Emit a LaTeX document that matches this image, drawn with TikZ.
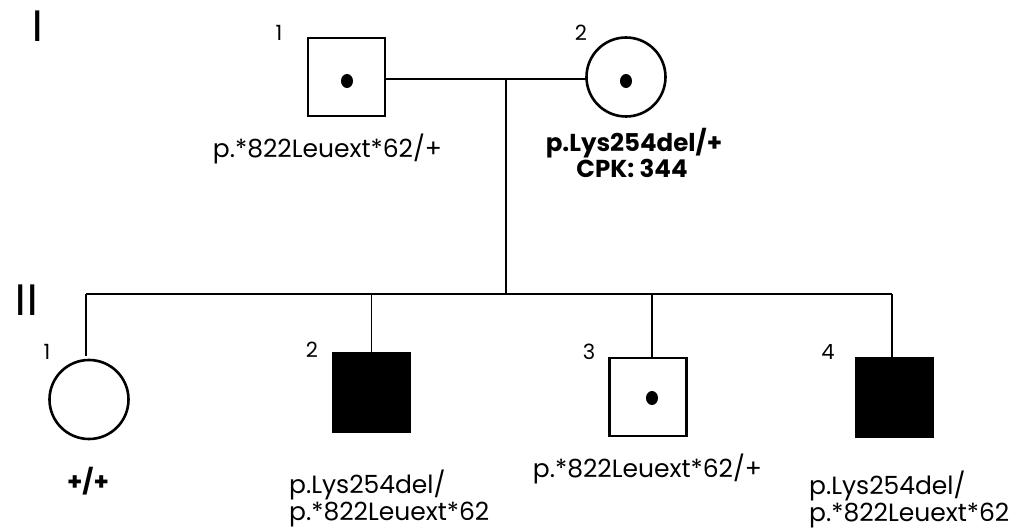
\documentclass[tikz,border=0pt]{standalone}
\usepackage{fontspec}
\usetikzlibrary{shapes.geometric}
\setmainfont{Poppins}
\newfontfamily\genfont{DejaVu Sans}
\begin{document}
\begin{tikzpicture}[x=1pt,y=-1pt,
  person/.style={draw=black,line width=2.6pt,inner sep=0pt,outer sep=0pt},
  male/.style={person,rectangle,minimum width=77pt,minimum height=78pt},
  female/.style={person,circle,minimum size=79pt},
  affected/.style={fill=black},
  carrierdot/.style={ellipse,fill=black,inner sep=0pt,minimum width=12pt,minimum height=14pt},
  link/.style={line width=1.3pt},
  num/.style={font=\fontsize{21}{22}\selectfont,inner sep=0pt},
  gen/.style={font=\genfont\fontsize{42}{44}\selectfont,inner sep=0pt,anchor=base},
  geno/.style={font=\fontsize{25}{27}\selectfont,inner sep=0pt,align=left},
  genob/.style={font=\bfseries\fontsize{24.5}{26}\selectfont,inner sep=0pt,align=center}]
\useasboundingbox (0,0) rectangle (1021,529);
% generation labels
\node[gen] (gI) at (38,42) {I};
\node[gen] (gII) at (26.5,316) {II};
% generation I
\node[male] (i1) at (346.5,77) {};
\node[carrierdot] (i1d) at (347,81) {};
\node[num] (i1n) at (279,33) {1};
\node[female] (i2) at (626,77) {};
\node[carrierdot] (i2d) at (626,81) {};
\node[num] (i2n) at (581,33) {2};
\coordinate (mid) at (506,79);
\draw[link] (i1.east |- mid) -- (i2.west |- mid);
\node[geno,anchor=base] (i1g) at (327.5,158) {p.*822Leuext*62/+};
\node[genob,anchor=base] (i2g) at (634,152) {p.Lys254del/+};
\node[genob,anchor=base] (i2c) at (632,178) {CPK: 344};
% sibship
\coordinate (sl) at (86,294);
\coordinate (sr) at (892,294);
\coordinate (sm) at (506,294);
\draw[link] (mid) -- (sm);
\draw[link] (sl) -- (sr);
% generation II
\node[female] (c1) at (89,399.5) {};
\node[num] (c1n) at (47,352) {1};
\coordinate (c1t) at (86,356);
\draw[link] (sl) -- (c1t);
\node[genob,anchor=base] (c1g) at (88,490) {+/+};

\node[male,affected] (c2) at (371.5,392.5) {};
\node[num] (c2n) at (312,350) {2};
\draw[link] (c2.north |- sl) -- (c2.north);
\node[geno,anchor=base west] (c2g) at (289,520) {p.Lys254del/\\p.*822Leuext*62};

\node[male] (c3) at (648,397) {};
\node[carrierdot] (c3d) at (652,398) {};
\node[num] (c3n) at (589,352) {3};
\coordinate (c3t) at (652,358);
\draw[link] (c3t |- sl) -- (c3t);
\node[geno,anchor=base] (c3g) at (647.5,478) {p.*822Leuext*62/+};

\node[male,affected] (c4) at (894.5,397.5) {};
\node[num] (c4n) at (828,352) {4};
\coordinate (c4t) at (892,358);
\draw[link] (sr) -- (c4t);
\node[geno,anchor=base west] (c4g) at (809,521) {p.Lys254del/\\p.*822Leuext*62};
\end{tikzpicture}
\end{document}
